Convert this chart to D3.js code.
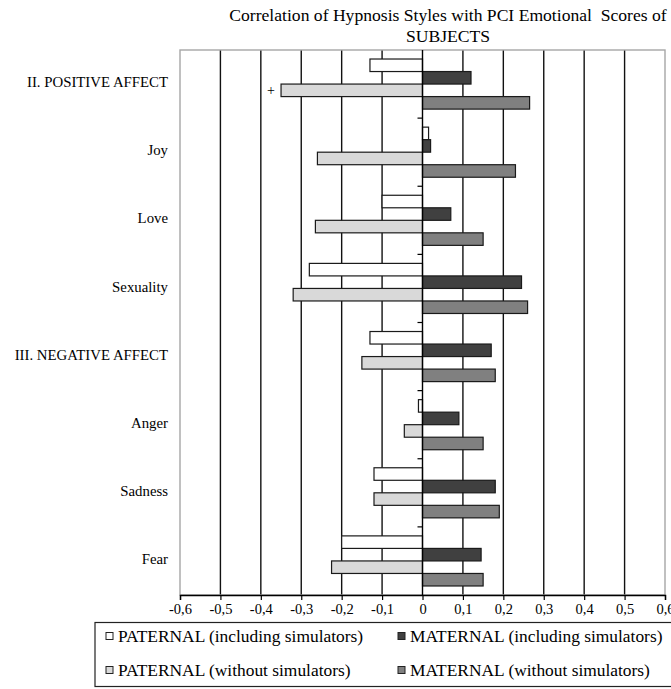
<!DOCTYPE html>
<html>
<head>
<meta charset="utf-8">
<script src="https://cdn.jsdelivr.net/npm/d3@7"></script>
<style>
  html, body { margin: 0; padding: 0; background: #fff; }
  svg { display: block; font-family: "Liberation Serif", "Times New Roman", serif; }
</style>
</head>
<body>
<svg id="chart" width="671" height="689"></svg>
<script>
// Emotional dimensions of the PCI (top to bottom)
const categories = [
  "II. POSITIVE AFFECT", "Joy", "Love", "Sexuality",
  "III. NEGATIVE AFFECT", "Anger", "Sadness", "Fear"
];

// Series names, in drawing order inside each group
const seriesNames = [
  "PATERNAL (including simulators)",
  "MATERNAL (including simulators)",
  "PATERNAL (without simulators)",
  "MATERNAL (without simulators)"
];
const seriesColors = ["#ffffff", "#404040", "#d9d9d9", "#808080"];

// Correlation coefficients per series, one per category
const paternalIncl  = [-0.13,  0.015, -0.10, -0.28, -0.13, -0.01, -0.12, -0.20];
const maternalIncl  = [ 0.12,  0.02,   0.07,  0.245, 0.17,  0.09,  0.18,  0.145];
const paternalWithout = [-0.35, -0.26, -0.265, -0.32, -0.15, -0.045, -0.12, -0.225];
const maternalWithout = [ 0.265, 0.23,  0.15,  0.26,  0.18,  0.15,  0.19,  0.15];

// Significance markers: [category, series index, symbol]
const markers = [["II. POSITIVE AFFECT", 2, "+"]];

const xTicks = [-0.6, -0.5, -0.4, -0.3, -0.2, -0.1, 0, 0.1, 0.2, 0.3, 0.4, 0.5, 0.6];

const seriesValues = [paternalIncl, maternalIncl, paternalWithout, maternalWithout];

const svg = d3.select("#chart");
const plot = { left: 180, right: 665, top: 50, bottom: 595 };

const x = d3.scaleLinear().domain([-0.6, 0.6]).range([plot.left, plot.right]);
const y0 = d3.scaleBand().domain(categories).range([plot.top, plot.bottom]).padding(0);
const y1 = d3.scaleBand().domain(d3.range(seriesNames.length))
  .range([0, y0.bandwidth()]).paddingInner(0).paddingOuter(0.72);

const fmt = v => (v === 0 ? "0" : d3.format(".1f")(v).replace(".", ",").replace("−", "-"));

// Title
const title = svg.append("text")
  .attr("x", 448).attr("text-anchor", "middle")
  .attr("font-size", 17.6).attr("fill", "#000");
title.append("tspan").attr("x", 448).attr("y", 20.5)
  .text("Correlation of Hypnosis Styles with PCI Emotional  Scores of")
  .style("white-space", "pre");
title.append("tspan").attr("x", 448).attr("y", 41.5).text("SUBJECTS");

// Vertical gridlines
svg.append("g").selectAll("line")
  .data(xTicks.filter(t => t > -0.6 && t < 0.6 && t !== 0))
  .join("line")
  .attr("x1", d => x(d)).attr("x2", d => x(d))
  .attr("y1", plot.top).attr("y2", plot.bottom)
  .attr("stroke", "#111").attr("stroke-width", 1.4);

// Plot frame (grey)
svg.append("rect")
  .attr("x", plot.left).attr("y", plot.top)
  .attr("width", plot.right - plot.left).attr("height", plot.bottom - plot.top)
  .attr("fill", "none").attr("stroke", "#a6a6a6").attr("stroke-width", 1.4);

// Bars
const groups = svg.append("g").selectAll("g")
  .data(categories)
  .join("g")
  .attr("transform", d => `translate(0,${y0(d)})`);

groups.selectAll("rect")
  .data((c, ci) => seriesValues.map((vals, si) => ({ si, v: vals[ci] })))
  .join("rect")
  .attr("x", d => x(Math.min(0, d.v)))
  .attr("y", d => y1(d.si))
  .attr("width", d => Math.abs(x(d.v) - x(0)))
  .attr("height", y1.bandwidth())
  .attr("fill", d => seriesColors[d.si])
  .attr("stroke", "#1a1a1a").attr("stroke-width", 1.2);

// Significance markers
svg.append("g").selectAll("text")
  .data(markers)
  .join("text")
  .attr("x", d => x(seriesValues[d[1]][categories.indexOf(d[0])]) - 10)
  .attr("y", d => y0(d[0]) + y1(d[1]) + y1.bandwidth() / 2 + 4.5)
  .attr("text-anchor", "middle").attr("font-size", 14).attr("fill", "#000")
  .text(d => d[2]);

// Category axis at zero, with ticks at band boundaries
const zeroAxis = svg.append("g");
zeroAxis.append("line")
  .attr("x1", x(0)).attr("x2", x(0))
  .attr("y1", plot.top).attr("y2", plot.bottom)
  .attr("stroke", "#000").attr("stroke-width", 1.4);
zeroAxis.selectAll("line.tick")
  .data(categories.slice(1))
  .join("line").attr("class", "tick")
  .attr("x1", x(0) - 5).attr("x2", x(0))
  .attr("y1", d => y0(d)).attr("y2", d => y0(d))
  .attr("stroke", "#000").attr("stroke-width", 1.2);

// Category labels on the far left
svg.append("g").selectAll("text")
  .data(categories)
  .join("text")
  .attr("x", 168)
  .attr("y", d => y0(d) + y0.bandwidth() / 2 - 2)
  .attr("dy", "0.35em")
  .attr("text-anchor", "end").attr("font-size", 14.8).attr("fill", "#000")
  .text(d => d);

// Value axis along the bottom
const xAxis = d3.axisBottom(x).tickValues(xTicks).tickSize(5).tickPadding(4).tickFormat(fmt);
const gx = svg.append("g").attr("transform", `translate(0,${plot.bottom})`).call(xAxis);
gx.select(".domain").attr("stroke", "#000").attr("stroke-width", 1.4);
gx.selectAll(".tick line").attr("stroke", "#000").attr("stroke-width", 1.2);
gx.selectAll(".tick text")
  .attr("font-family", "'Liberation Serif', 'Times New Roman', serif")
  .attr("font-size", 14.5).attr("fill", "#000");

// Legend
const legend = svg.append("g");
legend.append("rect")
  .attr("x", 95).attr("y", 622.5).attr("width", 600).attr("height", 64)
  .attr("fill", "#fff").attr("stroke", "#222").attr("stroke-width", 1.2);

const legendPos = [
  { x: 106, y: 636 }, { x: 398, y: 636 },
  { x: 106, y: 670 }, { x: 398, y: 670 }
];
const items = legend.selectAll("g.item")
  .data(seriesNames)
  .join("g").attr("class", "item")
  .attr("transform", (d, i) => `translate(${legendPos[i].x},${legendPos[i].y})`);
items.append("rect")
  .attr("x", 0).attr("y", -3.5).attr("width", 7).attr("height", 7)
  .attr("fill", (d, i) => seriesColors[i])
  .attr("stroke", "#222").attr("stroke-width", 1);
items.append("text")
  .attr("x", 12).attr("dy", "0.35em")
  .attr("font-size", 17.4).attr("fill", "#000")
  .text(d => d);
</script>
</body>
</html>
